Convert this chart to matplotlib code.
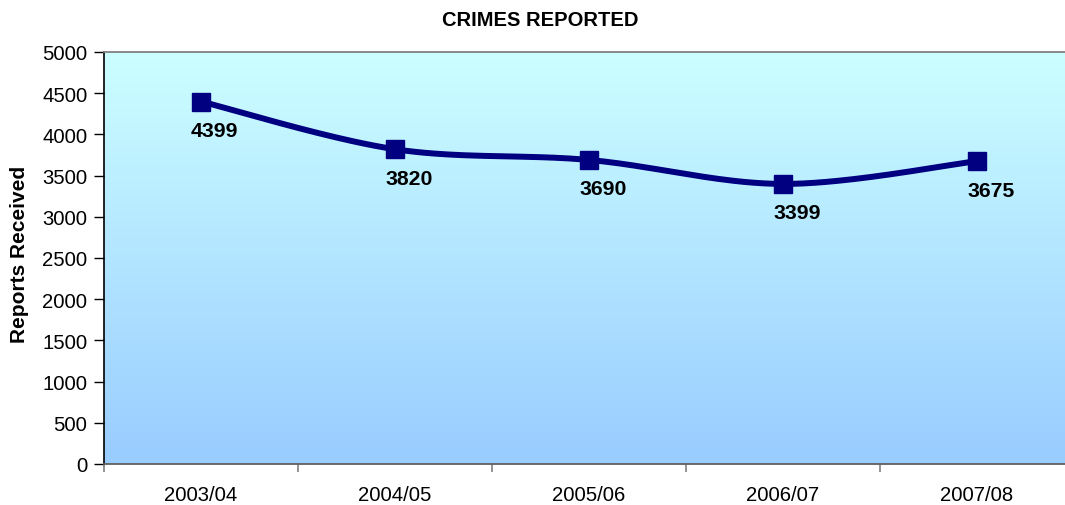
import numpy as np
import matplotlib
matplotlib.use("Agg")
import matplotlib.pyplot as plt
from matplotlib.colors import LinearSegmentedColormap

plt.rcParams['font.family'] = ['Liberation Sans', 'DejaVu Sans']

# data
years = ["2003/04", "2004/05", "2005/06", "2006/07", "2007/08"]
reports = [4399, 3820, 3690, 3399, 3675]
y_ticks = [0, 500, 1000, 1500, 2000, 2500, 3000, 3500, 4000, 4500, 5000]


def excel_smooth(xs, ys, steps=40):
    # bezier smoothing like the spreadsheet's "smoothed line"
    pts = np.column_stack([xs, ys]).astype(float)
    n = len(pts)
    out = [pts[0]]
    for i in range(n - 1):
        p0 = pts[max(i - 1, 0)]
        p1 = pts[i]
        p2 = pts[i + 1]
        p3 = pts[min(i + 2, n - 1)]
        c1 = p1 + (p2 - p0) / 6.0
        c2 = p2 - (p3 - p1) / 6.0
        t = np.linspace(0, 1, steps)[1:, None]
        seg = ((1 - t) ** 3) * p1 + 3 * ((1 - t) ** 2) * t * c1 \
            + 3 * (1 - t) * t ** 2 * c2 + t ** 3 * p2
        out.extend(seg)
    out = np.array(out)
    return out[:, 0], out[:, 1]


fig = plt.figure(figsize=(10.65, 5.06), dpi=100)
ax = fig.add_axes([104 / 1065, 41 / 506, 970 / 1065, 412 / 506])

x = np.arange(len(years))
ax.set_xlim(-0.5, len(years) - 0.5)
ax.set_ylim(0, 5000)

# gradient background
cmap = LinearSegmentedColormap.from_list("bg", ["#99CCFF", "#CCFFFF"])
grad = np.linspace(0, 1, 256).reshape(-1, 1)
ax.imshow(grad, aspect="auto", cmap=cmap, origin="lower",
          extent=[-0.5, len(years) - 0.5, 0, 5000], zorder=0)

sx, sy = excel_smooth(x, reports)
ax.plot(sx, sy, color="#000080", lw=4.3, solid_capstyle="round", zorder=3)
ax.plot(x, reports, ls="none", marker="s", ms=12.5, color="#000080", zorder=4)

for xi, v in zip(x, reports):
    ax.annotate(str(v), (xi, v), xytext=(-10, -29), textcoords="offset pixels",
                ha="left", va="center", fontsize=15.3, fontweight="bold",
                color="black", zorder=5)

ax.set_yticks(y_ticks)
ax.set_yticklabels([str(t) for t in y_ticks], fontsize=14.6)
ax.set_xticks(x)
ax.set_xticklabels(years, fontsize=14.6)
ax.set_xticks(np.arange(-0.5, len(years)), minor=True)
ax.tick_params(axis="x", which="major", length=0, pad=15)
ax.tick_params(axis="x", which="minor", length=6, color="#808080", width=1.2)
ax.tick_params(axis="y", length=7, width=1, pad=5, color="black")

for side in ["top", "bottom"]:
    ax.spines[side].set_color("#808080")
    ax.spines[side].set_linewidth(1.3)
ax.spines["bottom"].set_color("#606060")
ax.spines["left"].set_color("black")
ax.spines["left"].set_linewidth(1.2)
ax.spines["right"].set_visible(False)

ax.set_ylabel("Reports Received", fontsize=15, fontweight="bold")
ax.yaxis.set_label_coords(-75 / 970, 0.51)

fig.text(540 / 1065, 1 - 21 / 506, "CRIMES REPORTED", ha="center", va="center",
         fontsize=14.5, fontweight="bold")

fig.savefig("out.png", dpi=100)
